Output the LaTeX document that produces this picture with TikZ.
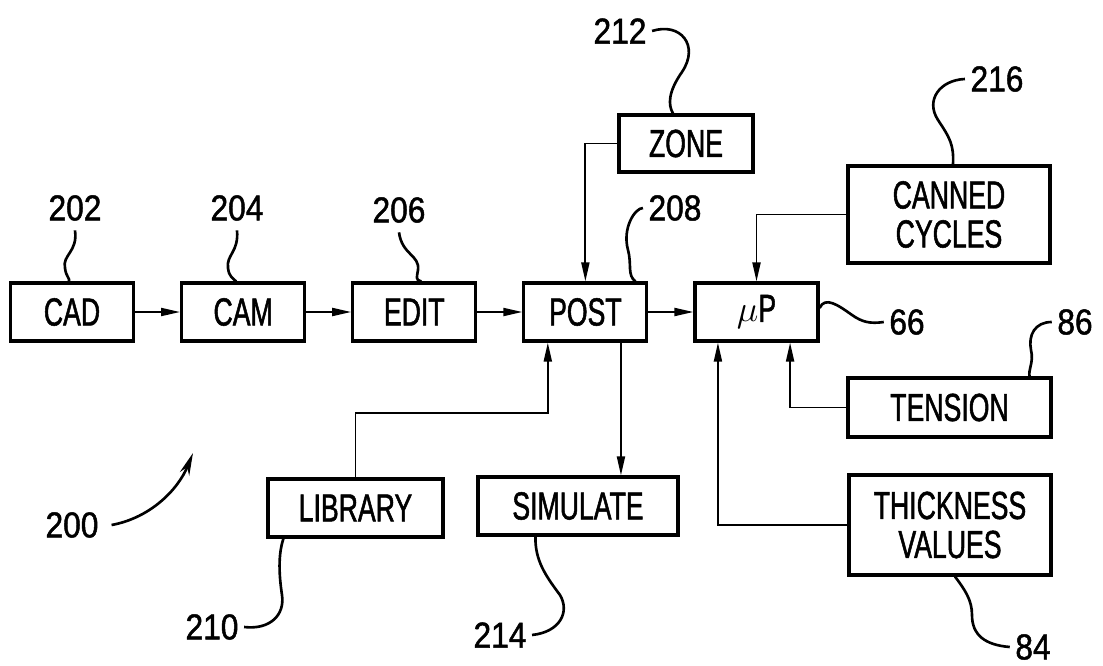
\documentclass[tikz,border=0pt]{standalone}
\usepackage{fontspec}
\newfontfamily\lblfont{Liberation Sans}[FakeStretch=0.68, FakeBold=1.3]
\newfontfamily\numfont{Liberation Sans}[FakeStretch=0.88, FakeBold=1.3]
\usetikzlibrary{arrows.meta, positioning}

\begin{document}
\begin{tikzpicture}[
    x=0.02cm, y=-0.02cm,
    >={Triangle[length=0.38cm, width=0.16cm]},
    node distance=0.9cm,
    block/.style={draw, line width=1.8pt, minimum width=2.46cm,
                  minimum height=1.16cm, inner sep=1pt, align=center,
                  font=\lblfont\fontsize{22.3}{22.2}\selectfont},
    refnum/.style={inner sep=3pt, font=\numfont\fontsize{20.5}{20}\selectfont},
    link/.style={line width=1.1pt},
    lead/.style={line width=1.5pt}
  ]
  \useasboundingbox (0,0) rectangle (1103,666);

  \node[block] (cad) at (72,312) {CAD};
  \node[block, right=of cad] (cam) {CAM};
  \node[block, right=of cam] (edit) {EDIT};
  \node[block, right=of edit] (post) {POST};
  \node[block, right=of post] (mup) {$\mu$P};

  \node[block, minimum width=2.68cm, minimum height=1.14cm] (zone) at (686,143.5) {ZONE};
  \node[block, minimum width=4.04cm, minimum height=1.94cm] (canned) at (949,214.5) {CANNED\\CYCLES};
  \node[block, minimum width=4.06cm, minimum height=1.18cm] (tension) at (949.5,407.5) {TENSION};
  \node[block, minimum width=4.04cm, minimum height=2.0cm] (thick) at (950,525) {THICKNESS\\VALUES};
  \node[block, minimum width=3.5cm] (library) at (355.5,508) {LIBRARY};
  \node[block, minimum width=4.0cm] (simulate) at (578,506) {SIMULATE};

  \draw[->, link] (cad) -- (cam);
  \draw[->, link] (cam) -- (edit);
  \draw[->, link] (edit) -- (post);
  \draw[->, link] (post) -- (mup);
  \draw[->, link] (zone.west) -| (post.north);
  \draw[->, link] (canned.west) -| (mup.north);

  \coordinate (libin) at ([xshift=0.51cm]post.south west);
  \draw[->, link] (library.north) |- ([yshift=-1.4cm]libin) -- (libin);
  \coordinate (simout) at ([xshift=-0.55cm]post.south east);
  \draw[->, link] (simout) -- (simout |- simulate.north);
  \coordinate (tenin) at ([xshift=-0.59cm]mup.south east);
  \draw[->, link] (tension.west) -| (tenin);
  \coordinate (thkin) at ([xshift=0.49cm]mup.south west);
  \draw[->, link] (thick.west) -| (thkin);

  \node[refnum] (n202) at (75,208) {202};
  \node[refnum] (n204) at (237,208) {204};
  \node[refnum] (n206) at (399,210) {206};
  \node[refnum] (n208) at (675,208) {208};
  \node[refnum] (n212) at (620,31) {212};
  \node[refnum] (n216) at (997,79) {216};
  \node[refnum] (n66) at (907,322) {66};
  \node[refnum] (n86) at (1075,322) {86};
  \node[refnum] (n84) at (1033,647) {84};
  \node[refnum] (n210) at (212,627) {210};
  \node[refnum] (n214) at (500,635) {214};
  \node[refnum] (n200) at (72,525) {200};

  \draw[lead] ([yshift=-0.08cm]n202.south) .. controls (78,252) and (62,255) .. (65,268)
    .. controls (66,277) and (70,278) .. ([xshift=-0.06cm]cad.north);
  \draw[lead] ([yshift=-0.08cm]n204.south) .. controls (239,252) and (226,255) .. (228,268)
    .. controls (229,277) and (233,278) .. ([xshift=-0.14cm]cam.north);
  \draw[lead] ([yshift=-0.08cm]n206.south) .. controls (402,255) and (420,255) .. (418,270)
    .. controls (417,277) and (415,280) .. ([xshift=0.14cm]edit.north);
  \draw[lead] (n208.west) .. controls (635,208) and (622,228) .. (628,250)
    .. controls (632,265) and (627,275) .. ([xshift=-0.26cm]post.north east);
  \draw[lead] (n212.east) .. controls (680,22) and (700,45) .. (682,72)
    .. controls (668,92) and (668,105) .. ([xshift=-0.26cm]zone.north);
  \draw[lead] (n216.west) .. controls (940,80) and (925,100) .. (938,120)
    .. controls (950,138) and (954,145) .. ([xshift=0.08cm]canned.north);
  \draw[lead] ([yshift=0.08cm]mup.east) .. controls (825,296) and (838,305) .. (852,315)
    .. controls (862,322) and (870,324) .. (n66.west);
  \draw[lead] (n86.west) .. controls (1035,322) and (1028,335) .. (1031,350)
    .. controls (1034,362) and (1028,370) .. ([xshift=-0.46cm]tension.north east);
  \draw[lead] ([xshift=0.1cm]thick.south) .. controls (965,590) and (972,600) .. (972,615)
    .. controls (972,635) and (985,645) .. (n84.west);
  \draw[lead] (n210.east) .. controls (270,630) and (285,615) .. (282,595)
    .. controls (279,575) and (278,555) .. ([xshift=0.34cm]library.south west);
  \draw[lead] (n214.east) .. controls (560,632) and (570,612) .. (560,595)
    .. controls (545,575) and (535,560) .. ([xshift=1.18cm]simulate.south west);

  \coordinate (sys) at (193,453);
  \draw[lead, -{Stealth[length=0.45cm, width=0.2cm]}] ([xshift=0.15cm]n200.east)
    .. controls (150,518) and (178,490) .. (sys);
\end{tikzpicture}
\end{document}
